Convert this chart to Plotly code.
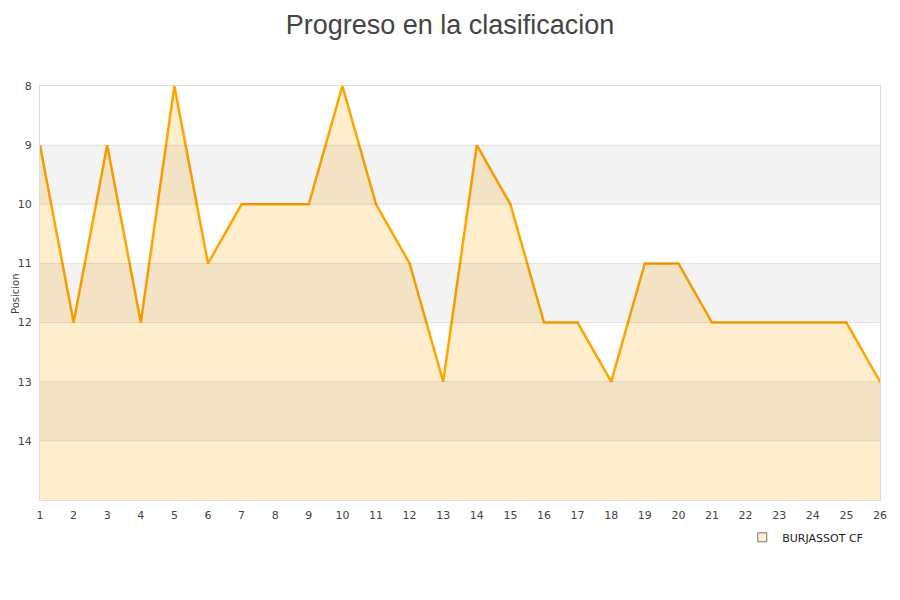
import plotly.graph_objects as go

jornadas = list(range(1, 27))
posiciones = [9, 12, 9, 12, 8, 11, 10, 10, 10, 8, 10, 11, 13, 9, 10, 12, 12, 13, 11, 11, 12, 12, 12, 12, 12, 13]
equipo = "BURJASSOT CF"
y_ticks = [8, 9, 10, 11, 12, 13, 14]
y_bottom = 15
bandas = [(9, 10), (11, 12), (13, 14)]

fig = go.Figure()
fig.add_trace(go.Scatter(x=jornadas, y=[y_bottom] * len(jornadas), mode="lines",
                         line=dict(width=0), showlegend=False, hoverinfo="skip"))
fig.add_trace(go.Scatter(x=jornadas, y=posiciones, mode="lines", name=equipo,
                         fill="tonexty", fillcolor="rgb(255,238,206)",
                         line=dict(color="#FFA500", width=2.5), showlegend=False))
fig.add_trace(go.Scatter(x=[None], y=[None], mode="markers", name=equipo,
                         marker=dict(symbol="square", size=9, color="rgb(255,238,206)",
                                     line=dict(color="#777777", width=1))))

shapes = []
for a, b in bandas:
    shapes.append(dict(type="rect", xref="paper", yref="y", x0=0, x1=1, y0=a, y1=b,
                       fillcolor="rgba(0,0,0,0.047)", line=dict(width=0), layer="above"))
for t in y_ticks[1:]:
    shapes.append(dict(type="line", xref="paper", yref="y", x0=0, x1=1, y0=t, y1=t,
                       line=dict(color="rgba(0,0,0,0.09)", width=1), layer="above"))

fig.update_layout(
    width=884, height=584,
    paper_bgcolor="white", plot_bgcolor="white",
    margin=dict(l=32, r=12, t=78, b=92),
    title=dict(text="Progreso en la clasificacion", x=0.5, xanchor="center", y=0.988, yanchor="top",
               font=dict(family="Liberation Sans, Arial", size=27, color="#444444")),
    font=dict(family="DejaVu Sans", size=11, color="#444444"),
    shapes=shapes,
    annotations=[dict(text="Posicion", xref="paper", yref="paper", x=-0.0298, xanchor="center",
                      y=0.5, yanchor="middle", textangle=-90, showarrow=False,
                      font=dict(size=10, color="#444444"))],
    showlegend=True,
    legend=dict(orientation="h", x=0.836, xanchor="left", y=-0.055, yanchor="top",
                font=dict(family="DejaVu Sans", size=11, color="#222222")),
    xaxis=dict(range=[1, 26], tickmode="array", tickvals=jornadas, showgrid=False,
               zeroline=False, showline=True, linecolor="#dddddd", mirror=True,
               ticks="", tickfont=dict(size=11), automargin=False, ticklabelstandoff=5),
    yaxis=dict(range=[y_bottom, 8], tickmode="array", tickvals=y_ticks, showgrid=False,
               zeroline=False, showline=True, linecolor="#dddddd", mirror=True,
               ticks="", tickfont=dict(size=11), automargin=False, ticklabelstandoff=5),
)
fig.write_html("out.html")
